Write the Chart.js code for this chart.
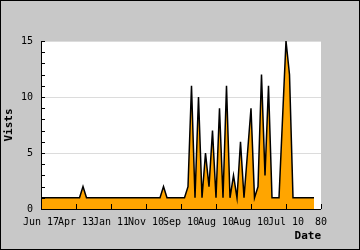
<!DOCTYPE html>
<html>
<head>
<meta charset="utf-8">
<script src="https://cdn.jsdelivr.net/npm/chart.js"></script>
<style>
  body { margin: 0; }
  canvas { display: block; }
</style>
</head>
<body>
<canvas id="visitsChart" width="360" height="250"></canvas>
<script>
// one value per day
var visits = [
    1,1,1,1,1,1,1,1,1,1,1,1,2,
    1,1,1,1,1,1,1,1,1,1,1,1,1,1,1,1,1,1,1,1,1,1,2,
    1,1,1,1,1,1,
    2,11,1,10,1,5,2,7,1,9,1,11,1,3,1,6,1,5,9,1,2,12,3,11,1,1,1,8,15,12,1,
    1,1,1,1,1,1
];
var tickLabels = ["Jun 17","Apr 13","Jan 11","Nov 10","Sep 10","Aug 10","Aug 10","Jul 10","80"];
var xMax = 80;
var yMax = 15;

var points = visits.map(function(v, i){ return {x: i, y: v}; });
var monoFont = "'DejaVu Sans Mono', monospace";

// gray frame, white plot, inner tick marks and axis lines
var framePlugin = {
    id: 'frame',
    beforeDraw: function(chart){
        var ctx = chart.ctx, a = chart.chartArea;
        ctx.save();
        ctx.fillStyle = '#c8c8c8';
        ctx.fillRect(0, 0, chart.width, chart.height);
        ctx.strokeStyle = '#000000';
        ctx.lineWidth = 1;
        ctx.strokeRect(0.5, 0.5, chart.width - 1, chart.height - 1);
        ctx.fillStyle = '#ffffff';
        ctx.fillRect(a.left, a.top, a.right - a.left, a.bottom - a.top);
        ctx.restore();
    },
    afterDatasetsDraw: function(chart){
        var ctx = chart.ctx, a = chart.chartArea;
        var xs = chart.scales.x, ys = chart.scales.y;
        ctx.save();
        ctx.strokeStyle = '#000000';
        ctx.lineWidth = 1;
        ctx.beginPath();
        for (var v = 0; v <= yMax; v++) {
            var py = Math.round(ys.getPixelForValue(v)) + 0.5;
            ctx.moveTo(a.left, py);
            ctx.lineTo(a.left + 4, py);
        }
        for (var t = 10; t <= xMax; t += 10) {
            var px = Math.round(xs.getPixelForValue(t)) + 0.5;
            ctx.moveTo(px, a.bottom);
            ctx.lineTo(px, a.bottom - 5);
        }
        ctx.moveTo(Math.round(a.left) + 0.5, a.top);
        ctx.lineTo(Math.round(a.left) + 0.5, a.bottom + 0.5);
        ctx.moveTo(a.left, Math.round(a.bottom) + 0.5);
        ctx.lineTo(a.right, Math.round(a.bottom) + 0.5);
        ctx.stroke();
        ctx.restore();
    }
};

var chart = new Chart(document.getElementById('visitsChart'), {
    type: 'line',
    data: {
        datasets: [{
            data: points,
            fill: 'origin',
            backgroundColor: '#ffa500',
            borderColor: '#000000',
            borderWidth: 1.5,
            pointRadius: 0,
            tension: 0
        }]
    },
    options: {
        responsive: false,
        devicePixelRatio: 1,
        animation: false,
        layout: { padding: { top: 41, right: 39, left: 0, bottom: 0 } },
        plugins: { legend: { display: false }, tooltip: { enabled: false } },
        scales: {
            x: {
                type: 'linear',
                min: 0,
                max: xMax,
                afterFit: function(scale){ scale.height = 41; },
                grid: { display: false, drawTicks: false },
                border: { display: false },
                ticks: {
                    stepSize: 10,
                    autoSkip: false,
                    maxRotation: 0,
                    padding: 7,
                    color: '#000000',
                    font: { family: monoFont, size: 10 },
                    callback: function(val){ return tickLabels[Math.round(val / 10)]; }
                },
                title: {
                    display: true,
                    text: 'Date',
                    align: 'end',
                    color: '#000000',
                    padding: { top: 0, bottom: 7 },
                    font: { family: monoFont, size: 11, weight: 'bold' }
                }
            },
            y: {
                min: 0,
                max: yMax,
                afterFit: function(scale){ scale.width = 41; },
                grid: { color: '#dcdcdc', drawTicks: false },
                border: { display: false },
                ticks: {
                    stepSize: 5,
                    padding: 8,
                    color: '#000000',
                    font: { family: monoFont, size: 10 }
                },
                title: {
                    display: true,
                    text: 'Vists',
                    color: '#000000',
                    padding: { top: 3, bottom: 0 },
                    font: { family: monoFont, size: 11, weight: 'bold' }
                }
            }
        }
    },
    plugins: [framePlugin]
});
</script>
</body>
</html>
